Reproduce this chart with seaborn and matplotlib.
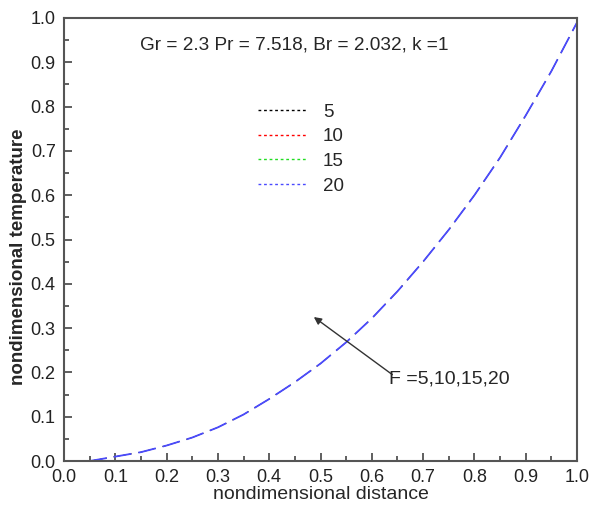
import numpy as np
import pandas as pd
import matplotlib
matplotlib.use("Agg")
import matplotlib.pyplot as plt
from matplotlib.lines import Line2D
from matplotlib.ticker import MultipleLocator, FormatStrFormatter
import seaborn as sns

x_vals = [0.0, 0.05, 0.1, 0.15, 0.2, 0.25, 0.3, 0.35, 0.4, 0.45, 0.5, 0.55, 0.6, 0.65, 0.7, 0.75, 0.8, 0.85, 0.9, 0.95, 1.0]
temp_vals = [0.0, 0.0, 0.01, 0.02, 0.035, 0.053, 0.076, 0.105, 0.14, 0.178, 0.22, 0.268, 0.322, 0.383, 0.45, 0.522, 0.6, 0.685, 0.78, 0.88, 0.99]
F_labels = ["5", "10", "15", "20"]
F_colors = ["black", "red", "#22dd22", "#4a4aff"]

sns.set_theme(style="white")
plt.rcParams['font.family'] = ['Liberation Sans', 'DejaVu Sans']

fig = plt.figure(figsize=(5.9, 5.07), dpi=100)
ax = fig.add_axes([0.1085, 0.0907, 0.8695, 0.8738])

for i, (lab, col) in enumerate(zip(F_labels, F_colors)):
    df = pd.DataFrame({"x": x_vals, "y": temp_vals})
    lw = 1.3 if i == len(F_labels) - 1 else 0.5
    sns.lineplot(data=df, x="x", y="y", ax=ax, color=col, linewidth=lw)
    ax.lines[-1].set_dashes((13 / lw, 5 / lw))

ax.set_xlim(0, 1.0)
ax.set_ylim(0, 1.0)
ax.xaxis.set_major_locator(MultipleLocator(0.1))
ax.yaxis.set_major_locator(MultipleLocator(0.1))
ax.xaxis.set_minor_locator(MultipleLocator(0.05))
ax.yaxis.set_minor_locator(MultipleLocator(0.05))
ax.xaxis.set_major_formatter(FormatStrFormatter('%.1f'))
ax.yaxis.set_major_formatter(FormatStrFormatter('%.1f'))
ax.tick_params(which='major', direction='in', length=6, width=1.2, labelsize=13, colors='#444444',
               labelcolor='#222222', bottom=True, left=True, top=False, right=False, pad=6)
ax.tick_params(which='minor', direction='in', length=3.5, width=1.2, colors='#444444',
               bottom=True, left=True, top=False, right=False)
for s in ax.spines.values():
    s.set_color('#555555')
    s.set_linewidth(1.5)

ax.set_xlabel("nondimensional distance", fontsize=14, labelpad=0)
ax.set_ylabel("nondimensional temperature", fontsize=13.5, fontweight='bold')
ax.yaxis.set_label_coords(-0.072, 0.46)

ax.text(0.448, 0.94, "Gr = 2.3 Pr = 7.518, Br = 2.032, k =1", transform=ax.transAxes,
        ha='center', va='center', fontsize=13.7)

handles = [Line2D([0], [0], color=c, linestyle=(0, (2, 2)), linewidth=1.0) for c in F_colors]
ax.legend(handles, F_labels, loc='upper left', bbox_to_anchor=(0.345, 0.845), frameon=False,
          fontsize=13.5, handlelength=2.67, handletextpad=0.8, labelspacing=0.40)

ax.annotate("", xy=(0.487, 0.325), xytext=(0.64, 0.195), textcoords='data',
            arrowprops=dict(arrowstyle='-|>', color='#333333', lw=1.0, shrinkA=0, shrinkB=0,
                            mutation_scale=11))
ax.text(0.633, 0.185, "F =5,10,15,20", fontsize=14, ha='left', va='center')

fig.savefig("out.png", dpi=100)
